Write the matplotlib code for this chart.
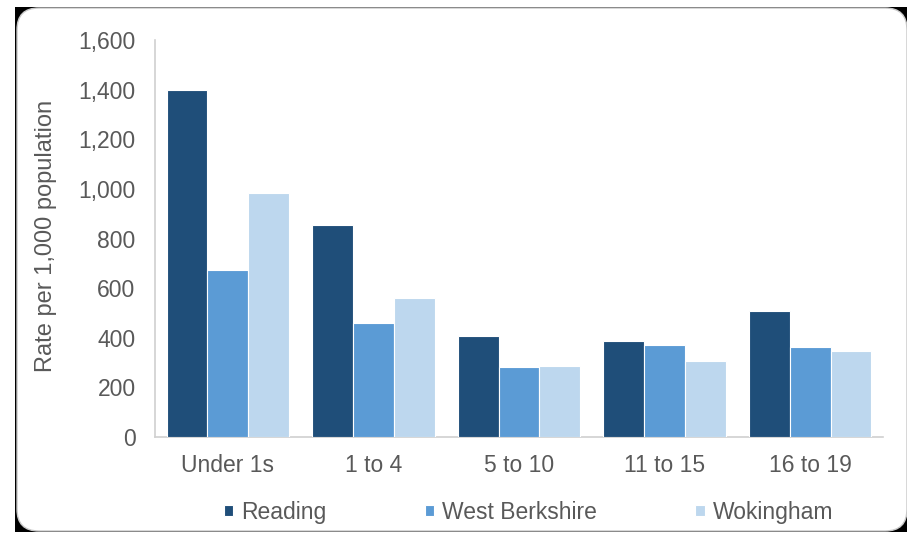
import numpy as np
import matplotlib.pyplot as plt
from matplotlib.patches import FancyBboxPatch, Rectangle

plt.rcParams['font.family'] = ['Liberation Sans', 'DejaVu Sans']

categories = ['Under 1s', '1 to 4', '5 to 10', '11 to 15', '16 to 19']
reading = [1400, 855, 408, 388, 506]
west_berkshire = [675, 460, 282, 371, 363]
wokingham = [985, 562, 288, 306, 347]

series = [('Reading', reading, '#1F4E79'),
          ('West Berkshire', west_berkshire, '#5B9BD5'),
          ('Wokingham', wokingham, '#BDD7EE')]

fig = plt.figure(figsize=(9.07, 5.35), dpi=100)
fig.patch.set_facecolor('white')

# dark frame behind a rounded white card
W, H = 907, 535
fig.patches.append(Rectangle((15 / W, 3 / H), (W - 15) / W, (H - 10) / H,
                             transform=fig.transFigure, facecolor='black',
                             edgecolor='none', zorder=-3))
fig.patches.append(FancyBboxPatch((17 / W, 4 / H), (W - 17) / W, (H - 12) / H,
                                  boxstyle='round,pad=0,rounding_size=0.024',
                                  mutation_aspect=W / H,
                                  transform=fig.transFigure, facecolor='white',
                                  edgecolor='#C8C8C8', linewidth=1.0, zorder=-2))

ax = fig.add_axes([155 / W, 1 - 437 / H, (883 - 155) / W, (437 - 40) / H])
ax.set_facecolor('none')

x = np.arange(len(categories))
width = 0.28
for i, (name, vals, color) in enumerate(series):
    ax.bar(x + (i - 1) * width, vals, width, color=color, label=name,
           edgecolor='white', linewidth=0.8, zorder=3)

ax.set_xlim(-0.5, len(categories) - 0.5)
ax.set_ylim(0, 1600)
ax.set_yticks(np.arange(0, 1601, 200))
ax.set_yticklabels(['{:,}'.format(v) for v in range(0, 1601, 200)])
ax.set_xticks(x)
ax.set_xticklabels(categories)
ax.tick_params(axis='both', length=0, labelsize=16.5, labelcolor='#595959')
ax.tick_params(axis='y', pad=14)
ax.tick_params(axis='x', pad=12)

for s in ['top', 'right']:
    ax.spines[s].set_visible(False)
for s in ['left', 'bottom']:
    ax.spines[s].set_color('#D0D0D0')
    ax.spines[s].set_linewidth(1.2)

ax.set_ylabel('Rate per 1,000 population', fontsize=17, color='#595959')
ax.yaxis.set_label_coords((57 - 155) / 728, 0.507)

leg = ax.legend(loc='center', bbox_to_anchor=(0.513, -0.189), ncol=3,
                frameon=False, fontsize=16.5, handlelength=0.4, handleheight=0.4,
                handletextpad=0.35, columnspacing=4.3)
for t in leg.get_texts():
    t.set_color('#595959')

fig.savefig('out.png', dpi=100, facecolor=fig.get_facecolor())
